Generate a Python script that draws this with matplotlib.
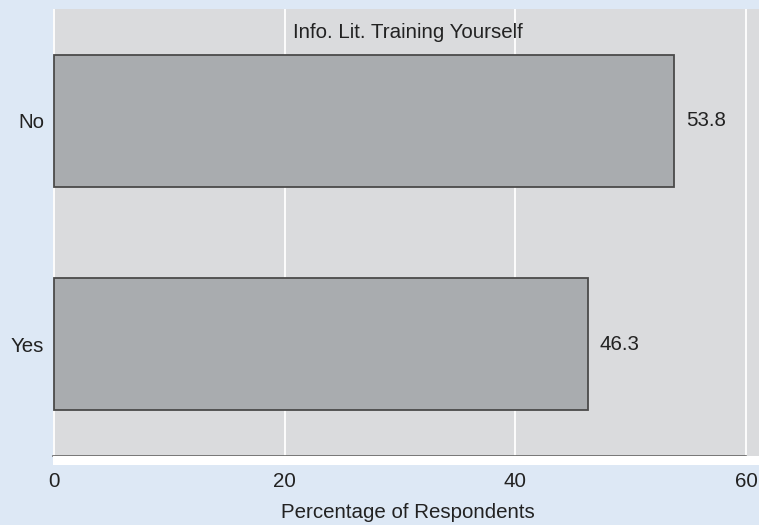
import matplotlib
matplotlib.use("Agg")
import matplotlib.pyplot as plt
from matplotlib.patches import Rectangle

categories = ["Yes", "No"]
values = [46.3, 53.8]
xticks = [0, 20, 40, 60]
title = "Info. Lit. Training Yourself"
xlabel = "Percentage of Respondents"

W, H = 759, 525
plt.rcParams['font.family'] = ['Liberation Sans', 'DejaVu Sans']
fig = plt.figure(figsize=(W / 100, H / 100), dpi=100)
fig.patch.set_facecolor('#dde8f5')

px0, px60 = 54, 746
scale = (px60 - px0) / 60.0
ax_left, ax_right = 53, 775
ax_top, ax_bot = 9, 456
ax = fig.add_axes([ax_left / W, 1 - ax_bot / H, (ax_right - ax_left) / W, (ax_bot - ax_top) / H])
ax.set_facecolor('#dadbdd')
ax.set_xlim((ax_left - px0) / scale, (ax_right - px0) / scale)
ax.set_ylim(0.5, 2.5)

# white strip under axis
fig.patches.append(Rectangle((ax_left / W, 1 - 465 / H), (W - ax_left) / W, 9 / H,
                             transform=fig.transFigure, facecolor='white', edgecolor='none', zorder=0))

fs = 14.8
ypos = list(range(1, len(categories) + 1))
ax.barh(ypos, values, height=0.59, color='#a9acaf', edgecolor='#4a4a4a', linewidth=1.3, zorder=3)
for y, v in zip(ypos, values):
    ax.text(v + 1.04, y, f"{v:.1f}", va='center', ha='left', fontsize=fs, color='#222222', zorder=4)

ax.set_xticks(xticks)
ax.set_xticklabels([str(t) for t in xticks], fontsize=fs, color='#222222')
ax.set_yticks(ypos)
ax.set_yticklabels(categories, fontsize=fs, color='#222222')
ax.tick_params(axis='y', length=0, pad=6.5)
ax.tick_params(axis='x', length=5, width=1, color='#777777', pad=6.5)
ax.grid(axis='x', color='white', linewidth=1.3, zorder=1)
ax.set_axisbelow(True)
for s in ['top', 'right', 'left']:
    ax.spines[s].set_visible(False)
ax.spines['bottom'].set_color('#666666')
ax.spines['bottom'].set_linewidth(1.2)
ax.spines['bottom'].set_bounds(-0.08, 60)

ax.text((408 - px0) / scale, 2.5 - (32 - ax_top) / (ax_bot - ax_top) * 2.0, title,
        ha='center', va='center', fontsize=fs, color='#222222')
fig.text(408 / W, 1 - 512 / H, xlabel, ha='center', va='center', fontsize=fs, color='#222222')

fig.savefig("out.png", dpi=100, facecolor=fig.get_facecolor())
